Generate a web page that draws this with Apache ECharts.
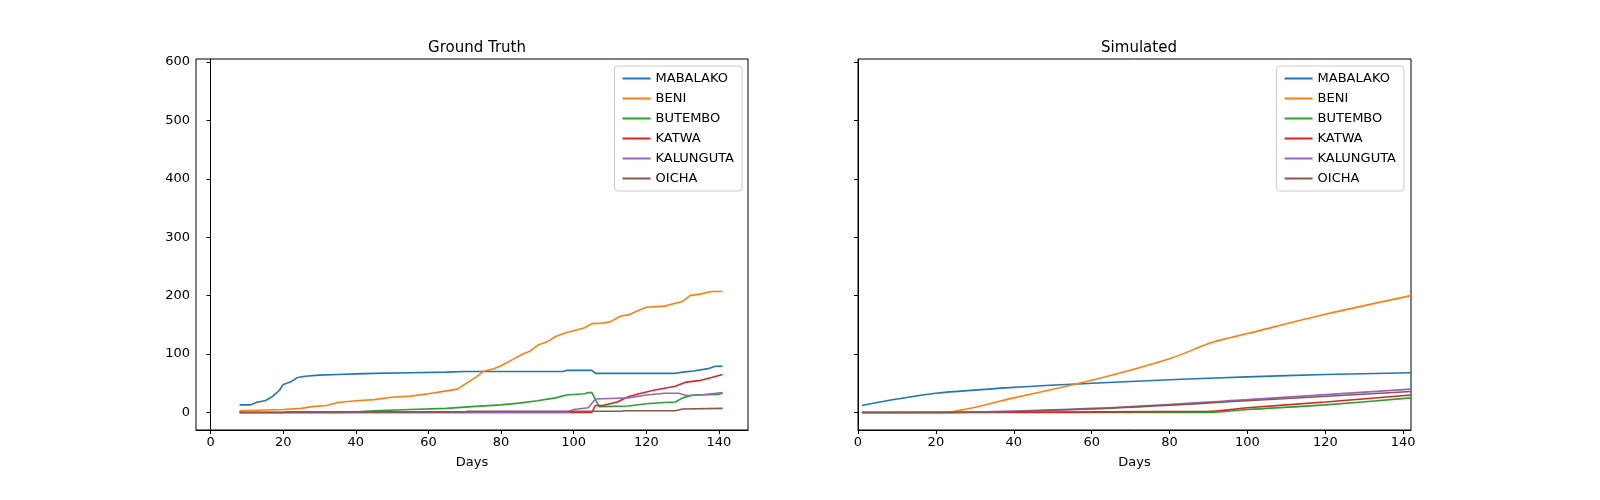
<!DOCTYPE html>
<html>
<head>
<meta charset="utf-8">
<script src="https://cdn.jsdelivr.net/npm/echarts@6/dist/echarts.min.js"></script>
<style>html,body{margin:0;padding:0;background:#fff}#c{width:1600px;height:500px}</style>
</head>
<body>
<div id="c"></div>
<script>
// region names and colours
const names = ["MABALAKO", "BENI", "BUTEMBO", "KATWA", "KALUNGUTA", "OICHA"];
const colors = ["#1f77b4", "#ff7f0e", "#2ca02c", "#d62728", "#9467bd", "#8c564b"];

// ground truth [day, count]
const gtMabalako = [[8,13],[11,13],[13,18],[15,20],[17,27],[19,38],[20,48],[22,52],[24,60],[26,62],[30,64],[35,65],[40,66],[45,67],[55,68],[65,69],[70,70],[97,70],[98,72],[105,72],[106,67],[128,67],[130,69],[133,71],[137,75],[139,79],[141,79]];
const gtBeni = [[8,3],[20,5],[25,7],[28,10],[32,12],[35,17],[40,20],[45,22],[50,26],[55,28],[60,32],[65,37],[68,40],[70,48],[73,60],[75,70],[78,75],[80,80],[83,90],[86,100],[88,105],[90,115],[93,122],[95,130],[98,137],[100,140],[103,145],[105,152],[108,153],[110,155],[113,165],[115,167],[118,175],[120,180],[125,182],[128,187],[130,190],[132,200],[135,203],[138,207],[141,207]];
const gtButembo = [[8,0],[37,0],[45,3],[55,5],[65,7],[72,10],[80,13],[85,16],[90,20],[95,25],[98,30],[103,32],[104,34],[105,34],[107,10],[115,11],[120,15],[125,17],[128,18],[130,25],[133,30],[140,31],[141,33]];
const gtKatwa = [[8,0],[105,0],[106,12],[108,12],[112,18],[115,27],[118,32],[122,38],[128,45],[131,52],[135,55],[138,60],[141,65]];
const gtKalunguta = [[8,0],[98,0],[100,5],[104,8],[106,23],[110,24],[115,25],[120,30],[125,33],[129,33],[131,29],[135,30],[141,34]];
const gtOicha = [[8,0],[20,0],[21,1],[70,1],[71,2],[113,2],[114,3],[128,3],[130,6],[141,7]];

// simulated [day, count]
const simMabalako = [[1,12],[10,23],[20,33],[40,43],[60,50],[80,56],[100,61],[120,65],[142,68]];
const simBeni = [[1,0],[21,0],[40,25],[60,55],[80,92],[91,120],[100,135],[120,168],[142,200]];
const simButembo = [[1,0],[90,0],[100,5],[120,13],[142,25]];
const simKatwa = [[1,0],[90,2],[100,8],[120,18],[142,30]];
const simKalunguta = [[1,0],[20,0],[60,7],[100,22],[142,40]];
const simOicha = [[1,0],[20,0],[60,6],[100,20],[142,36]];

const gt = [gtMabalako, gtBeni, gtButembo, gtKatwa, gtKalunguta, gtOicha];
const sim = [simMabalako, simBeni, simButembo, simKatwa, simKalunguta, simOicha];
const xTicks = [0, 20, 40, 60, 80, 100, 120, 140];
const yTicks = [0, 100, 200, 300, 400, 500, 600];

const txt = {color: "#000", fontSize: 13, fontFamily: "DejaVu Sans"};
function xAxis(idx, min, max) {
    return {
        type: "value", gridIndex: idx, min: min, max: max,
        name: "Days", nameLocation: "middle", nameGap: 26, nameTextStyle: txt,
        axisLine: {onZero: false, lineStyle: {color: "#000"}},
        axisTick: {customValues: xTicks, length: 4, lineStyle: {color: "#000"}},
        axisLabel: {customValues: xTicks, ...txt, margin: 6},
        splitLine: {show: false}
    };
}
function yAxis(idx, showLabel) {
    return {
        type: "value", gridIndex: idx, min: -30, max: 605,
        axisLine: {show: true, lineStyle: {color: "#000"}},
        axisTick: {show: true, customValues: yTicks, length: 4, lineStyle: {color: "#000"}},
        axisLabel: {show: showLabel, customValues: yTicks, ...txt, margin: 6},
        splitLine: {show: false}
    };
}
function legend(right) {
    return {
        data: names, orient: "vertical", top: 66, right: right, itemWidth: 28, itemHeight: 2,
        itemGap: 7, icon: "rect", textStyle: {...txt}, borderColor: "#ccc", borderWidth: 1,
        borderRadius: 3, padding: [6, 8, 6, 8], backgroundColor: "#fff"
    };
}

let series = [];
names.forEach(function (n, i) {
    series.push({name: n, type: "line", xAxisIndex: 0, yAxisIndex: 0, data: gt[i], showSymbol: false, lineStyle: {width: 1.6}, color: colors[i]});
    series.push({name: n, type: "line", xAxisIndex: 1, yAxisIndex: 1, data: sim[i], showSymbol: false, smooth: 0.3, lineStyle: {width: 1.6}, color: colors[i]});
});

const chart = echarts.init(document.getElementById("c"));
chart.setOption({
    animation: false,
    title: [
        {text: "Ground Truth", left: 472, top: 36, textAlign: "center", textStyle: {...txt, fontSize: 15, fontWeight: "normal"}},
        {text: "Simulated", left: 1134, top: 36, textAlign: "center", textStyle: {...txt, fontSize: 15, fontWeight: "normal"}}
    ],
    legend: [legend(858), legend(196)],
    grid: [
        {left: 196, width: 552, top: 59, height: 371, show: true, borderColor: "#000", borderWidth: 1},
        {left: 858, width: 553, top: 59, height: 371, show: true, borderColor: "#000", borderWidth: 1}
    ],
    xAxis: [xAxis(0, -4, 148), xAxis(1, 0, 142)],
    yAxis: [yAxis(0, true), yAxis(1, false)],
    series: series
});
</script>
</body>
</html>
